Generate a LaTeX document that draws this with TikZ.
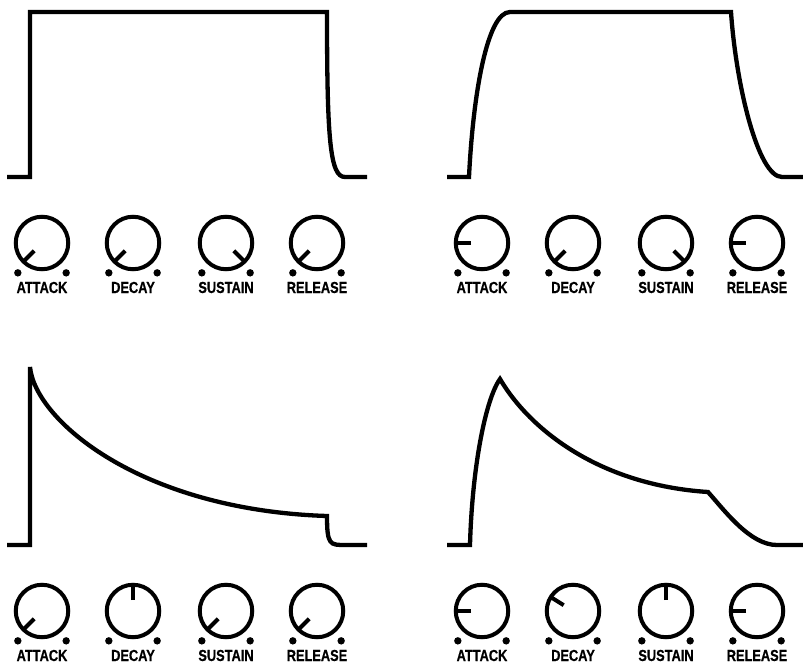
\documentclass[tikz,border=0pt]{standalone}
\usepackage{fontspec}
\newfontfamily\knobfont[FakeStretch=0.8, FakeBold=0.6]{Liberation Sans}
\tikzset{
  env/.style={line width=4.3pt, line join=miter},
  knobring/.style={circle, draw, line width=4pt, minimum size=52.5pt, inner sep=0pt},
  knobptr/.style={line width=4pt},
  knobdot/.style={fill=black},
  knoblabel/.style={font=\knobfont\bfseries\fontsize{16}{16}\selectfont, anchor=base, inner sep=0pt}
}
% #1 name, #2 x, #3 y, #4 pointer angle, #5 label
\newcommand\myknob[5]{%
  \begin{scope}[shift={(#2,#3)}, yscale=-1]
    \node[knobring] (#1) at (0,0) {};
    \draw[knobptr] (#4:11) -- (#4:26.3);
    \fill[knobdot] (231:38.4) circle (3.7pt);
    \fill[knobdot] (-51:38.4) circle (3.7pt);
    \node[knoblabel] (#1-l) at (0,-50) {#5};
  \end{scope}}
\begin{document}
\begin{tikzpicture}[x=1pt, y=-1pt]
\useasboundingbox (0,0) rectangle (803,664);
% top-left envelope
\draw[env] (7,177) -- (30,177) -- (30,12) -- (327,12)
  .. controls (327,140) and (330,177) .. (345,177) -- (367,177);
% top-right envelope
\draw[env] (447,177) -- (469,177)
  .. controls (473,95) and (487,12) .. (510,12) -- (731,12)
  .. controls (736,85) and (758,177) .. (782,177) -- (803,177);
% bottom-left envelope
\draw[env] (7,545) -- (30,545) -- (30,367)
  .. controls (35,420) and (140,510) .. (327,516)
  .. controls (327,545) and (330,545) .. (345,545) -- (367,545);
% bottom-right envelope
\draw[env] (447,545) -- (470,545)
  .. controls (472,470) and (485,400) .. (500,379)
  .. controls (530,430) and (600,485) .. (708,492)
  .. controls (725,511) and (750,545) .. (777,545) -- (803,545);
% knobs top-left
\myknob{a1}{42}{243}{225}{ATTACK}
\myknob{d1}{133}{243}{225}{DECAY}
\myknob{s1}{226}{243}{315}{SUSTAIN}
\myknob{r1}{317}{243}{225}{RELEASE}
% knobs top-right
\myknob{a2}{482}{243}{180}{ATTACK}
\myknob{d2}{573}{243}{225}{DECAY}
\myknob{s2}{666}{243}{315}{SUSTAIN}
\myknob{r2}{757}{243}{180}{RELEASE}
% knobs bottom-left
\myknob{a3}{42}{611}{225}{ATTACK}
\myknob{d3}{133}{611}{90}{DECAY}
\myknob{s3}{226}{611}{225}{SUSTAIN}
\myknob{r3}{317}{611}{225}{RELEASE}
% knobs bottom-right
\myknob{a4}{482}{611}{180}{ATTACK}
\myknob{d4}{573}{611}{148}{DECAY}
\myknob{s4}{666}{611}{90}{SUSTAIN}
\myknob{r4}{757}{611}{180}{RELEASE}
\end{tikzpicture}
\end{document}
